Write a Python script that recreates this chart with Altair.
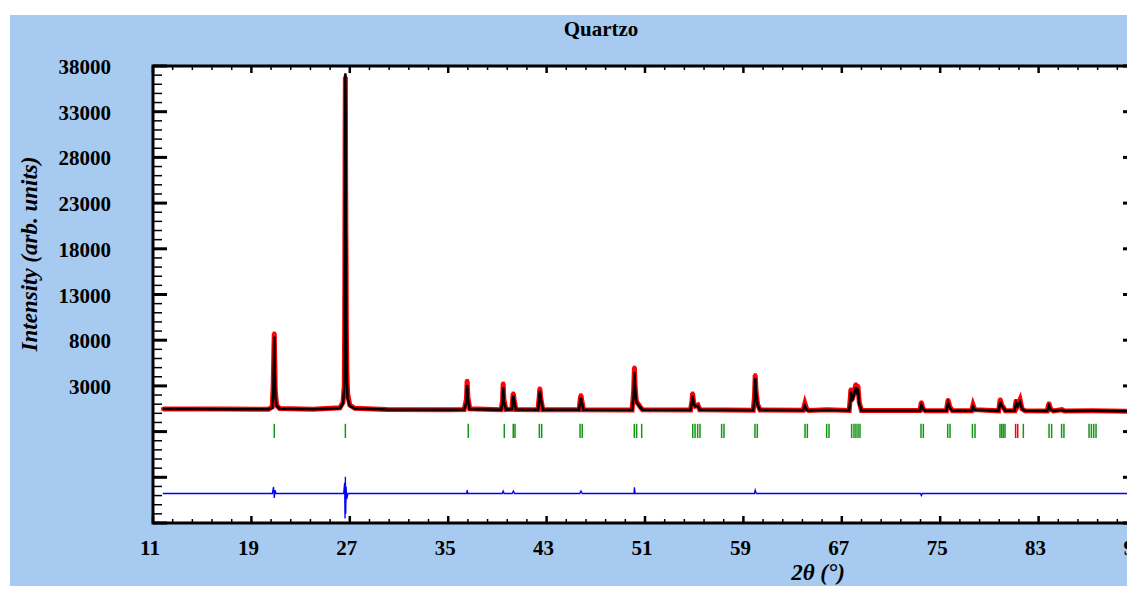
import altair as alt
import pandas as pd

# ---------------- data ----------------
two_theta = [11.8, 14.0, 17.0, 20.4, 20.7, 20.78, 20.83, 20.86, 20.89, 20.94, 21.05, 21.3,
             24.0, 26.2, 26.45, 26.55, 26.58, 26.60, 26.62, 26.64, 26.66, 26.68, 26.70, 26.72,
             26.76, 26.82, 27.0, 27.4, 30.0, 35.0, 36.3, 36.48, 36.54, 36.60, 36.75,
             39.3, 39.42, 39.47, 39.53, 39.7, 40.18, 40.25, 40.29, 40.36, 40.5,
             42.3, 42.4, 42.45, 42.53, 42.7, 45.65, 45.73, 45.79, 45.86, 46.0,
             49.95, 50.08, 50.14, 50.2, 50.3, 50.62, 50.8,
             54.7, 54.82, 54.87, 54.95, 55.1, 55.3, 55.45,
             59.8, 59.9, 59.96, 60.03, 60.15, 60.35,
             63.85, 64.0, 64.15, 64.3, 65.8, 67.6, 67.7, 67.74, 67.82, 67.95, 68.14, 68.22,
             68.31, 68.42, 68.6, 73.35, 73.47, 73.6, 73.8, 75.5, 75.64, 75.78, 76.0,
             77.55, 77.67, 77.8, 79.75, 79.88, 80.0, 80.12, 80.3, 81.05, 81.17, 81.3,
             81.49, 81.65, 81.9, 83.7, 83.84, 83.98, 84.2, 84.9, 85.1, 87.4, 90.6, 90.7,
             90.85, 91.0]
i_obs = [480, 470, 460, 450, 700, 3500, 7000, 8750, 6200, 2500, 900, 520,
         450, 600, 1200, 3000, 9000, 16800, 30900, 36800, 26700, 20400, 15700, 9100,
         4700, 2200, 900, 550, 430, 400, 420, 1500, 3570, 1800, 500,
         400, 1400, 3280, 1500, 420, 450, 1700, 2190, 1500, 420,
         400, 1800, 2730, 1600, 400, 380, 1500, 2000, 1400, 380,
         370, 2500, 5020, 2800, 1300, 700, 380,
         360, 1400, 2190, 1200, 800, 910, 400,
         340, 1800, 4190, 2400, 1000, 360,
         330, 1100, 450, 320, 380, 320, 1800, 2630, 1500, 2000, 3180, 2600,
         3000, 1200, 320, 300, 1210, 500, 290, 290, 1460, 700, 280,
         280, 910, 400, 270, 1530, 900, 700, 280, 280, 1380, 900,
         1500, 500, 270, 260, 1100, 450, 260, 400, 260, 280, 230, 800,
         1460, 1000]
i_calc = [470, 465, 455, 445, 600, 2500, 6000, 8400, 5500, 2000, 800, 500,
          445, 560, 1100, 2800, 8000, 17000, 29000, 37200, 33000, 19500, 19000, 8000,
          3500, 1600, 800, 520, 425, 400, 410, 1200, 3100, 1500, 450,
          400, 1100, 2840, 1300, 410, 450, 1500, 1930, 1400, 420,
          400, 1600, 2470, 1500, 400, 380, 1300, 1710, 1200, 380,
          370, 2000, 4550, 2600, 1200, 650, 380,
          360, 1200, 1930, 1100, 750, 800, 400,
          340, 1500, 3830, 2200, 900, 360,
          330, 840, 400, 320, 360, 320, 1500, 2370, 1300, 1800, 2850, 2400,
          2700, 1000, 320, 300, 910, 450, 290, 290, 1160, 600, 280,
          280, 725, 400, 270, 1270, 800, 600, 280, 280, 1150, 800,
          1250, 450, 270, 260, 840, 400, 260, 350, 260, 270, 230, 700,
          1250, 900]

diff_two_theta = [11.8, 20.7, 20.8, 20.86, 20.92, 21.0, 26.5, 26.58, 26.61, 26.64, 26.67,
                  26.70, 26.75, 26.85, 36.5, 36.54, 36.6, 39.4, 39.47, 39.55, 40.2, 40.3,
                  40.4, 45.7, 45.79, 45.9, 50.1, 50.14, 50.2, 59.9, 59.96, 60.05, 73.4,
                  73.47, 73.55, 91.0]
i_diff = [-8770, -8770, -8060, -9260, -8400, -8770, -8770, -7600, -11500, -6940, -11000,
          -8000, -9400, -8770, -8770, -8400, -8770, -8770, -8500, -8770, -8770, -8500,
          -8770, -8770, -8500, -8770, -8770, -8100, -8770, -8770, -8400, -8770, -8770,
          -9000, -8770, -8770]

bragg_quartz = [20.86, 26.64, 36.63, 39.56, 40.29, 40.43, 42.41, 42.60, 45.72, 45.90,
                50.13, 50.32, 50.73, 54.88, 55.07, 55.28, 55.47, 57.23, 57.42, 59.94,
                60.13, 64.01, 64.20, 65.77, 65.96, 67.80, 67.99, 68.15, 68.32, 68.48,
                73.44, 73.63, 75.61, 75.80, 77.62, 77.83, 79.86, 80.00, 80.13, 80.27,
                81.76, 83.85, 84.06, 84.87, 85.06, 87.10, 87.29, 87.48, 87.67, 90.85]
bragg_phase2 = [81.13, 81.30]

x_labels = [11, 19, 27, 35, 43, 51, 59, 67, 75, 83, 91]
y_labels = [3000, 8000, 13000, 18000, 23000, 28000, 33000, 38000]
y_major = [-12000, -7000, -2000] + y_labels
y_minor = [v for v in range(-11000, 38000, 1000) if (v + 12000) % 5000 != 0]
x_minor = [round(11 + 1.6 * k, 2) for k in range(1, 50) if k % 5 != 0]

chart_title = "Quartzo"
x_title = "2θ (°)"
y_title = "Intensity (arb. units)"

# ---------------- layout constants ----------------
W, H = 984, 457
FONT = "Liberation Serif"
BLUE_BG = "#A6CAF0"

df = pd.DataFrame({"tt": two_theta, "obs": i_obs, "calc": i_calc})
df_diff = pd.DataFrame({"tt": diff_two_theta, "diff": i_diff})
df_b1 = pd.DataFrame({"tt": bragg_quartz})
df_b2 = pd.DataFrame({"tt": bragg_phase2})
one = pd.DataFrame({"a": [0]})

xs = alt.Scale(domain=[11, 91], nice=False, zero=False)
ys = alt.Scale(domain=[-12000, 38000], nice=False, zero=False)

# white page strips above / left of the blue panel
strip_top = alt.Chart(one).mark_rect(color="white").encode(
    x=alt.value(-150), x2=alt.value(W + 20), y=alt.value(-60), y2=alt.value(-51))
strip_left = alt.Chart(one).mark_rect(color="white").encode(
    x=alt.value(-150), x2=alt.value(-143), y=alt.value(-60), y2=alt.value(H + 80))
plot_bg = alt.Chart(one).mark_rect(color="white").encode(
    x=alt.value(0), x2=alt.value(W), y=alt.value(0), y2=alt.value(H))

X = alt.X("tt:Q", scale=xs, axis=None)
obs_band = alt.Chart(df).mark_line(color="#FF0000", strokeWidth=5, clip=True).encode(
    x=X, y=alt.Y("obs:Q", scale=ys, axis=None))
obs_pts = alt.Chart(df).mark_square(color="#FF0000", size=12, opacity=1, clip=True).encode(
    x=X, y=alt.Y("obs:Q", scale=ys, axis=None))
calc = alt.Chart(df).mark_line(color="black", strokeWidth=2.5, clip=True).encode(
    x=X, y=alt.Y("calc:Q", scale=ys, axis=None))
diff = alt.Chart(df_diff).mark_line(color="#0000FF", strokeWidth=1.3, clip=True).encode(
    x=X, y=alt.Y("diff:Q", scale=ys, axis=None))
b1 = alt.Chart(df_b1).mark_rule(color="#159615", strokeWidth=1.5, clip=True).encode(
    x=X, y=alt.datum(-1150, scale=ys, axis=None), y2=alt.datum(-2700))
b2 = alt.Chart(df_b2).mark_rule(color="#FF0000", strokeWidth=1.5, clip=True).encode(
    x=X, y=alt.datum(-1150, scale=ys, axis=None), y2=alt.datum(-2700))

frame = alt.Chart(one).mark_rect(fillOpacity=0, stroke="black", strokeWidth=3).encode(
    x=alt.value(0), x2=alt.value(W), y=alt.value(0), y2=alt.value(H))

dfy_major = pd.DataFrame({"v": y_major})
dfy_minor = pd.DataFrame({"v": y_minor})
dfx_major = pd.DataFrame({"v": x_labels})
dfx_minor = pd.DataFrame({"v": x_minor})
dfy_lab = pd.DataFrame({"v": y_labels})


def yticks(d, x0, x1, sw):
    return alt.Chart(d).mark_rule(color="black", strokeWidth=sw).encode(
        y=alt.Y("v:Q", scale=ys, axis=None), x=alt.value(x0), x2=alt.value(x1))


def xticks(d, y0, y1, sw):
    return alt.Chart(d).mark_rule(color="black", strokeWidth=sw).encode(
        x=alt.X("v:Q", scale=xs, axis=None), y=alt.value(y0), y2=alt.value(y1))


ticks = [
    yticks(dfy_major, 0, 14, 3), yticks(dfy_minor, 0, 9, 1.5),
    yticks(dfy_major, W, W - 14, 3), yticks(dfy_minor, W, W - 9, 1.5),
    xticks(dfx_major, H, H - 7, 2.5), xticks(dfx_minor, H, H - 4, 1.5),
    xticks(dfx_major, 0, 7, 2.5), xticks(dfx_minor, 0, 4, 1.5),
]

txt = dict(font=FONT, fontWeight="bold", color="black")
y_lab = alt.Chart(dfy_lab).mark_text(align="right", baseline="middle", fontSize=21, dy=2, **txt).encode(
    y=alt.Y("v:Q", scale=ys, axis=None), x=alt.value(-42), text=alt.Text("v:Q", format="d"))
x_lab = alt.Chart(dfx_major).mark_text(align="center", baseline="middle", fontSize=21, dx=-3, **txt).encode(
    x=alt.X("v:Q", scale=xs, axis=None), y=alt.value(H + 26), text=alt.Text("v:Q", format="d"))

title = alt.Chart(one).mark_text(text=chart_title, fontSize=21, align="center",
                                 baseline="alphabetic", **txt).encode(
    x=alt.value(448), y=alt.value(-30))
x_tit = alt.Chart(one).mark_text(text=x_title, fontSize=23, fontStyle="italic", align="center",
                                 baseline="middle", **txt).encode(
    x=alt.value(665), y=alt.value(H + 50))
y_tit = alt.Chart(one).mark_text(text=y_title, fontSize=23, fontStyle="italic", align="center",
                                 baseline="middle", angle=270, **txt).encode(
    x=alt.value(-123), y=alt.value(188))

chart = alt.layer(strip_top, strip_left, plot_bg, obs_band, obs_pts, calc, diff, b1, b2,
                  frame, *ticks, y_lab, x_lab, title, x_tit, y_tit).properties(
    width=W, height=H,
    padding={"left": 145, "top": 58, "right": -10, "bottom": 63},
    autosize=alt.AutoSizeParams(type="none"),
    background=BLUE_BG,
).configure_view(strokeWidth=0)

chart.save("out.html", embed_options={"renderer": "svg", "actions": False})
